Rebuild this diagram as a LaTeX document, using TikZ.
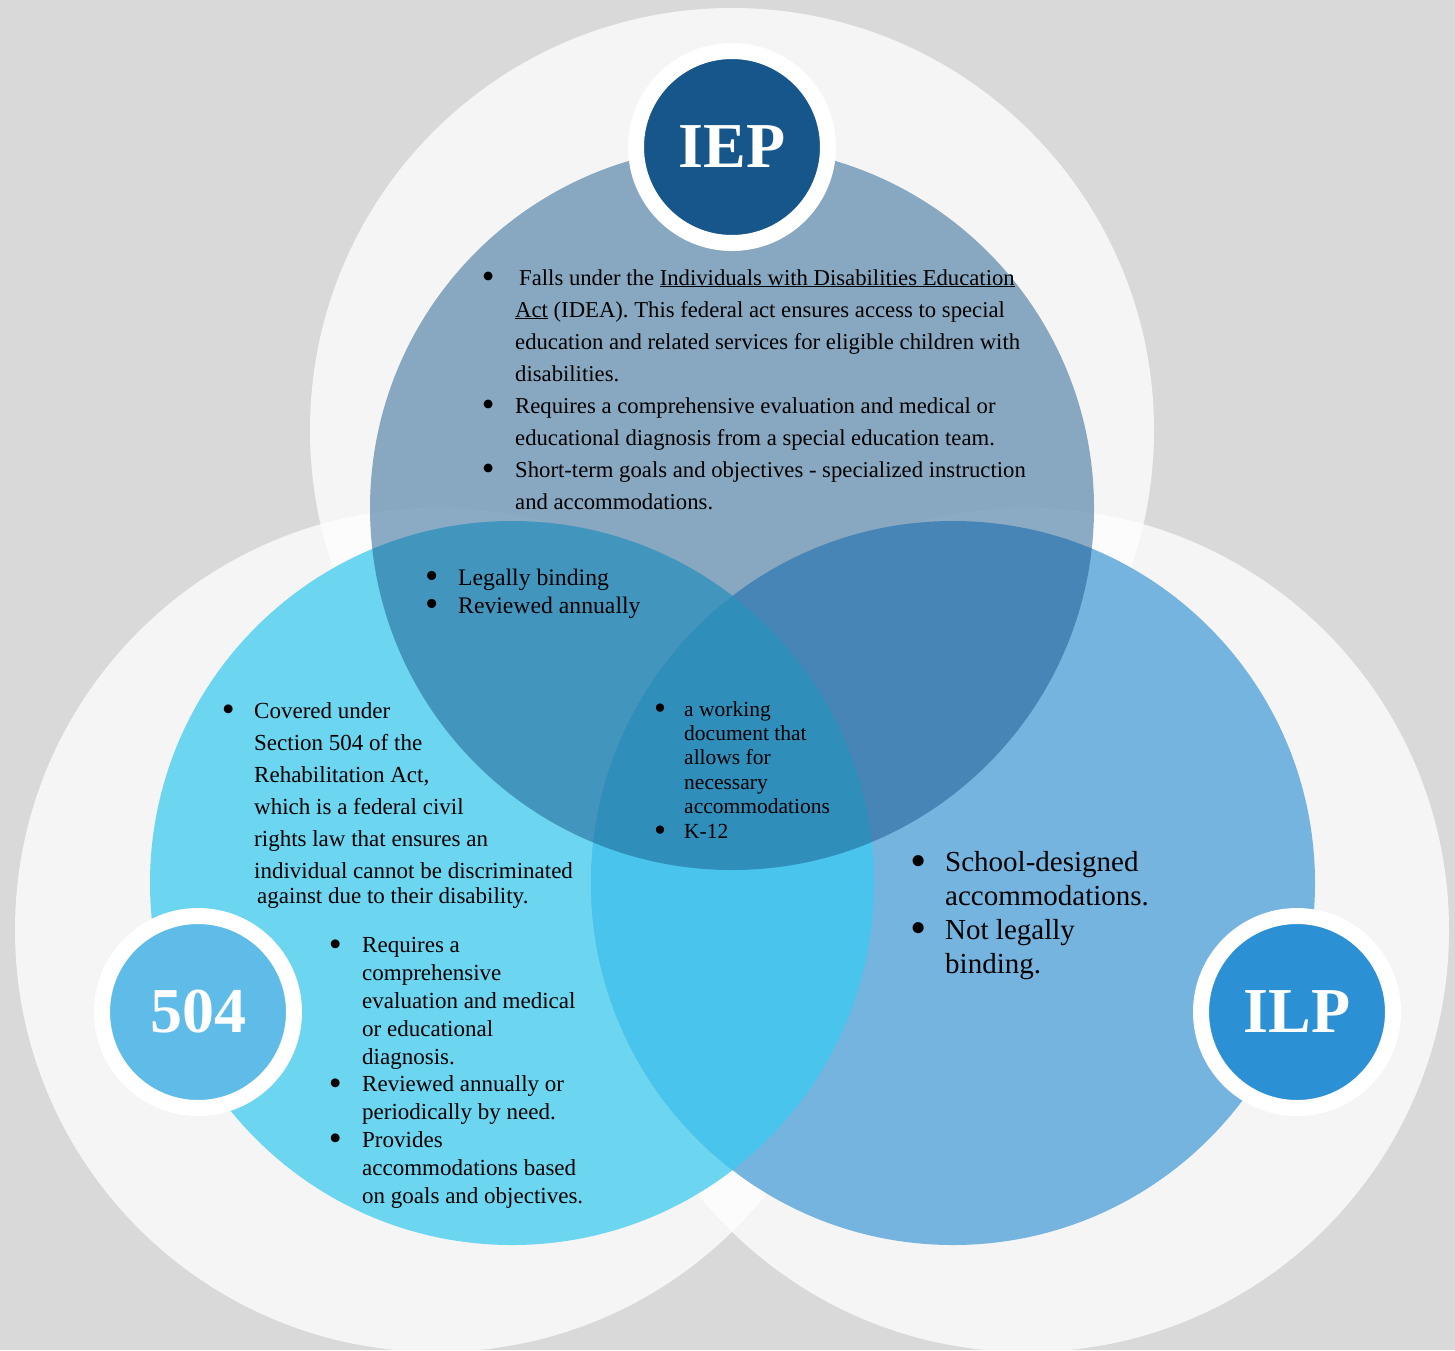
\documentclass[tikz,border=0pt]{standalone}
\usepackage{fontspec}
\setmainfont{Liberation Serif}
\definecolor{bggrey}{HTML}{D9D9D9}
\definecolor{iepblue}{HTML}{17568A}
\definecolor{cyanfill}{HTML}{6CD5F0}
\definecolor{ilpfill}{HTML}{75B4DF}
\definecolor{cyanilp}{HTML}{49C4EC}
\definecolor{badgecyan}{HTML}{5FBBE8}
\definecolor{badgeilp}{HTML}{2B90D4}
% enlarged bullet hanging a given distance to the left of the text start
\newcommand\bul[1]{\llap{\makebox[0pt]{\raisebox{-0.15em}{\scalebox{1.6}{\textbullet}}}\hspace{#1}}}
\begin{document}
\begin{tikzpicture}[x=1pt,y=-1pt,
  pale/.style={fill=white,fill opacity=0.76},
  % multi-line nodes: the base anchor sits on the last line's baseline
  txt/.style={anchor=base west,inner sep=0pt,align=left,text=black},
  badge/.style={circle,draw=white,line width=16pt,minimum size=192pt,
    inner sep=0pt,text=white,font=\fontsize{64pt}{64pt}\selectfont\bfseries}]
\useasboundingbox (0,0) rectangle (1455,1350);
\fill[bggrey] (0,0) rectangle (1455,1350);

% soft white halos
\fill[pale] (732,430) circle[radius=422pt];
\fill[pale] (437,930) circle[radius=422pt];
\fill[pale] (1027,930) circle[radius=422pt];

% the three sets
\fill[cyanfill] (512,883) circle[radius=362pt];
\fill[ilpfill] (953,883) circle[radius=362pt];
\begin{scope}
  \clip (512,883) circle[radius=362pt];
  \fill[cyanilp] (953,883) circle[radius=362pt];
\end{scope}
\fill[iepblue,fill opacity=0.49] (732,508) circle[radius=362pt];

% badges
\node[badge,fill=iepblue] (iep) at (732,147) {IEP};
\node[badge,fill=badgecyan] (sec504) at (198,1012) {504};
\node[badge,fill=badgeilp] (ilp) at (1297,1012) {ILP};

% IEP only
\node[txt,font=\fontsize{22.7pt}{32pt}\selectfont] (ieptext) at (515,509)
 {\bul{27pt}\hspace{4pt}Falls under the \underline{Individuals with Disabilities Education}\\
  \underline{Act} (IDEA). This federal act ensures access to special\\
  education and related services for eligible children with\\
  disabilities.\\
  \bul{27pt}Requires a comprehensive evaluation and medical or\\
  educational diagnosis from a special education team.\\
  \bul{27pt}Short-term goals and objectives - specialized instruction\\
  and accommodations.};

% IEP and 504
\node[txt,font=\fontsize{23.7pt}{28pt}\selectfont] (ieptofive) at (458,613)
 {\bul{26pt}Legally binding\\
  \bul{26pt}Reviewed annually};

% all three
\node[txt,font=\fontsize{21.5pt}{24.4pt}\selectfont] (common) at (684,838)
 {\bul{24pt}a working\\
  document that\\
  allows for\\
  necessary\\
  accommodations\\
  \bul{24pt}K-12};

% 504 only
\node[txt,font=\fontsize{23pt}{32pt}\selectfont] (fivetext) at (254,903)
 {\bul{26pt}Covered under\\
  Section 504 of the\\
  Rehabilitation Act,\\
  which is a federal civil\\
  rights law that ensures an\\
  individual cannot be discriminated\\[-7pt]
  \hspace{3pt}against due to their disability.};

\node[txt,font=\fontsize{23pt}{27.8pt}\selectfont] (fivelist) at (362,1203)
 {\bul{27pt}Requires a\\
  comprehensive\\
  evaluation and medical\\
  or educational\\
  diagnosis.\\
  \bul{27pt}Reviewed annually or\\
  periodically by need.\\
  \bul{27pt}Provides\\
  accommodations based\\
  on goals and objectives.};

% ILP only
\node[txt,font=\fontsize{29pt}{33.7pt}\selectfont] (ilptext) at (945,973)
 {\bul{27pt}School-designed\\
  accommodations.\\
  \bul{27pt}Not legally\\
  binding.};
\end{tikzpicture}
\end{document}
